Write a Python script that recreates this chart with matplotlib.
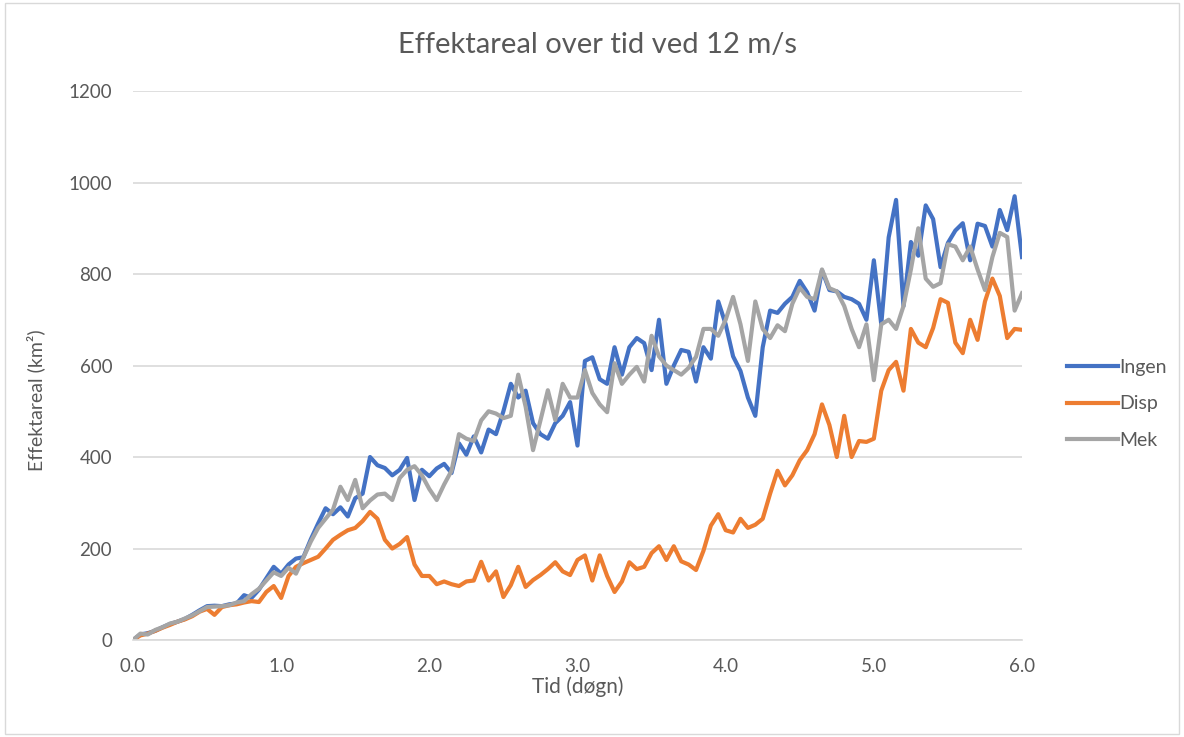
import numpy as np
import matplotlib.pyplot as plt
from matplotlib.patches import Rectangle

# tid i døgn, ett punkt per 0.05 døgn
tid = np.round(np.arange(0, 121) * 0.05, 2)

ingen = [0, 12, 15, 20, 28, 35, 40, 46, 55, 65,
         74, 75, 74, 78, 80, 98, 92, 110, 135, 160,
         145, 165, 178, 181, 220, 255, 288, 275, 290, 270,
         310, 320, 400, 382, 376, 360, 372, 398, 306, 372,
         358, 375, 385, 365, 430, 405, 445, 410, 460, 450,
         500, 560, 530, 545, 474, 450, 440, 474, 490, 520,
         425, 610, 618, 570, 560, 640, 580, 640, 660, 649,
         590, 700, 560, 600, 634, 630, 565, 640, 615, 740,
         690, 620, 588, 530, 490, 640, 720, 715, 735, 750,
         785, 760, 720, 808, 765, 762, 750, 745, 735, 700,
         830, 690, 880, 962, 730, 870, 840, 950, 920, 815,
         868, 895, 911, 830, 910, 905, 860, 940, 896, 970,
         837]

disp = [0, 10, 14, 20, 27, 33, 40, 45, 52, 62,
        68, 55, 72, 76, 78, 82, 85, 83, 105, 118,
        92, 140, 160, 168, 175, 182, 200, 219, 230, 240,
        245, 260, 280, 265, 219, 200, 210, 225, 165, 140,
        140, 122, 128, 122, 118, 128, 130, 171, 130, 150,
        94, 120, 160, 116, 131, 142, 155, 170, 150, 142,
        175, 185, 130, 185, 140, 105, 128, 170, 155, 160,
        190, 205, 175, 205, 172, 165, 153, 195, 250, 275,
        240, 235, 265, 245, 252, 265, 320, 370, 338, 360,
        393, 415, 450, 515, 470, 400, 490, 400, 435, 433,
        440, 545, 590, 608, 545, 680, 650, 640, 682, 745,
        737, 650, 627, 700, 656, 740, 790, 752, 660, 680,
        678]

mek = [0, 14, 12, 22, 28, 36, 40, 47, 54, 63,
       72, 73, 74, 76, 82, 85, 100, 112, 130, 148,
       140, 158, 145, 180, 215, 245, 265, 285, 335, 306,
       350, 288, 305, 318, 320, 306, 354, 372, 380, 360,
       330, 306, 340, 370, 450, 440, 435, 480, 500, 495,
       485, 490, 580, 510, 415, 480, 546, 481, 560, 530,
       530, 590, 540, 515, 498, 605, 560, 580, 597, 565,
       665, 620, 600, 590, 580, 595, 619, 680, 680, 665,
       700, 750, 690, 610, 740, 680, 660, 688, 675, 735,
       770, 750, 745, 810, 769, 762, 730, 680, 640, 690,
       568, 690, 700, 680, 730, 810, 900, 790, 772, 780,
       865, 860, 830, 860, 810, 765, 837, 890, 881, 720,
       758]

serier = ['Ingen', 'Disp', 'Mek']
farger = ['#4472C4', '#ED7D31', '#A5A5A5']

plt.rcParams['font.family'] = ['Lato', 'DejaVu Sans']
tekst = '#595959'

fig = plt.figure(figsize=(11.84, 7.37), dpi=100)
ax = fig.add_axes([0.1123, 0.1316, 0.7509, 0.7449])

for navn, verdier, farge in zip(serier, [ingen, disp, mek], farger):
    ax.plot(tid, verdier, color=farge, lw=3.0, label=navn, solid_joinstyle='round')

ax.set_xlim(0, 6)
ax.set_ylim(0, 1200)
ax.set_xticks(np.arange(0, 6.1, 1.0))
ax.set_xticklabels([f'{v:.1f}' for v in np.arange(0, 6.1, 1.0)])
ax.set_yticks(np.arange(0, 1201, 200))
ax.grid(axis='y', color='#d9d9d9', lw=1.2)
ax.set_axisbelow(True)
for s in ['top', 'right', 'left']:
    ax.spines[s].set_visible(False)
ax.spines['bottom'].set_color('#d9d9d9')
ax.spines['bottom'].set_linewidth(1.2)
ax.tick_params(axis='both', length=0, colors=tekst, labelsize=13.5)
ax.tick_params(axis='x', pad=13)
ax.tick_params(axis='y', pad=15)

# tittelen er sentrert på hele diagrammet
fig.text(0.505, 0.939, 'Effektareal over tid ved 12 m/s', fontsize=21, color=tekst,
         ha='center', va='center')
ax.set_xlabel('Tid (døgn)', fontsize=15, color=tekst, labelpad=1)
ax.set_ylabel('Effektareal (km²)', fontsize=14, color=tekst)
ax.yaxis.set_label_coords(-0.099, 0.437)

leg = ax.legend(loc='center left', bbox_to_anchor=(1.0506, 0.43), frameon=False,
                fontsize=14, labelspacing=1.0, handlelength=2.6, handletextpad=0.1,
                borderpad=0, borderaxespad=0)
for t in leg.get_texts():
    t.set_color(tekst)

# ramme rundt hele diagrammet
fig.patches.append(Rectangle((0.004, 0.004), 0.992, 0.992, transform=fig.transFigure,
                             fill=False, edgecolor='#d9d9d9', lw=1))

fig.savefig('out.png', dpi=100)
